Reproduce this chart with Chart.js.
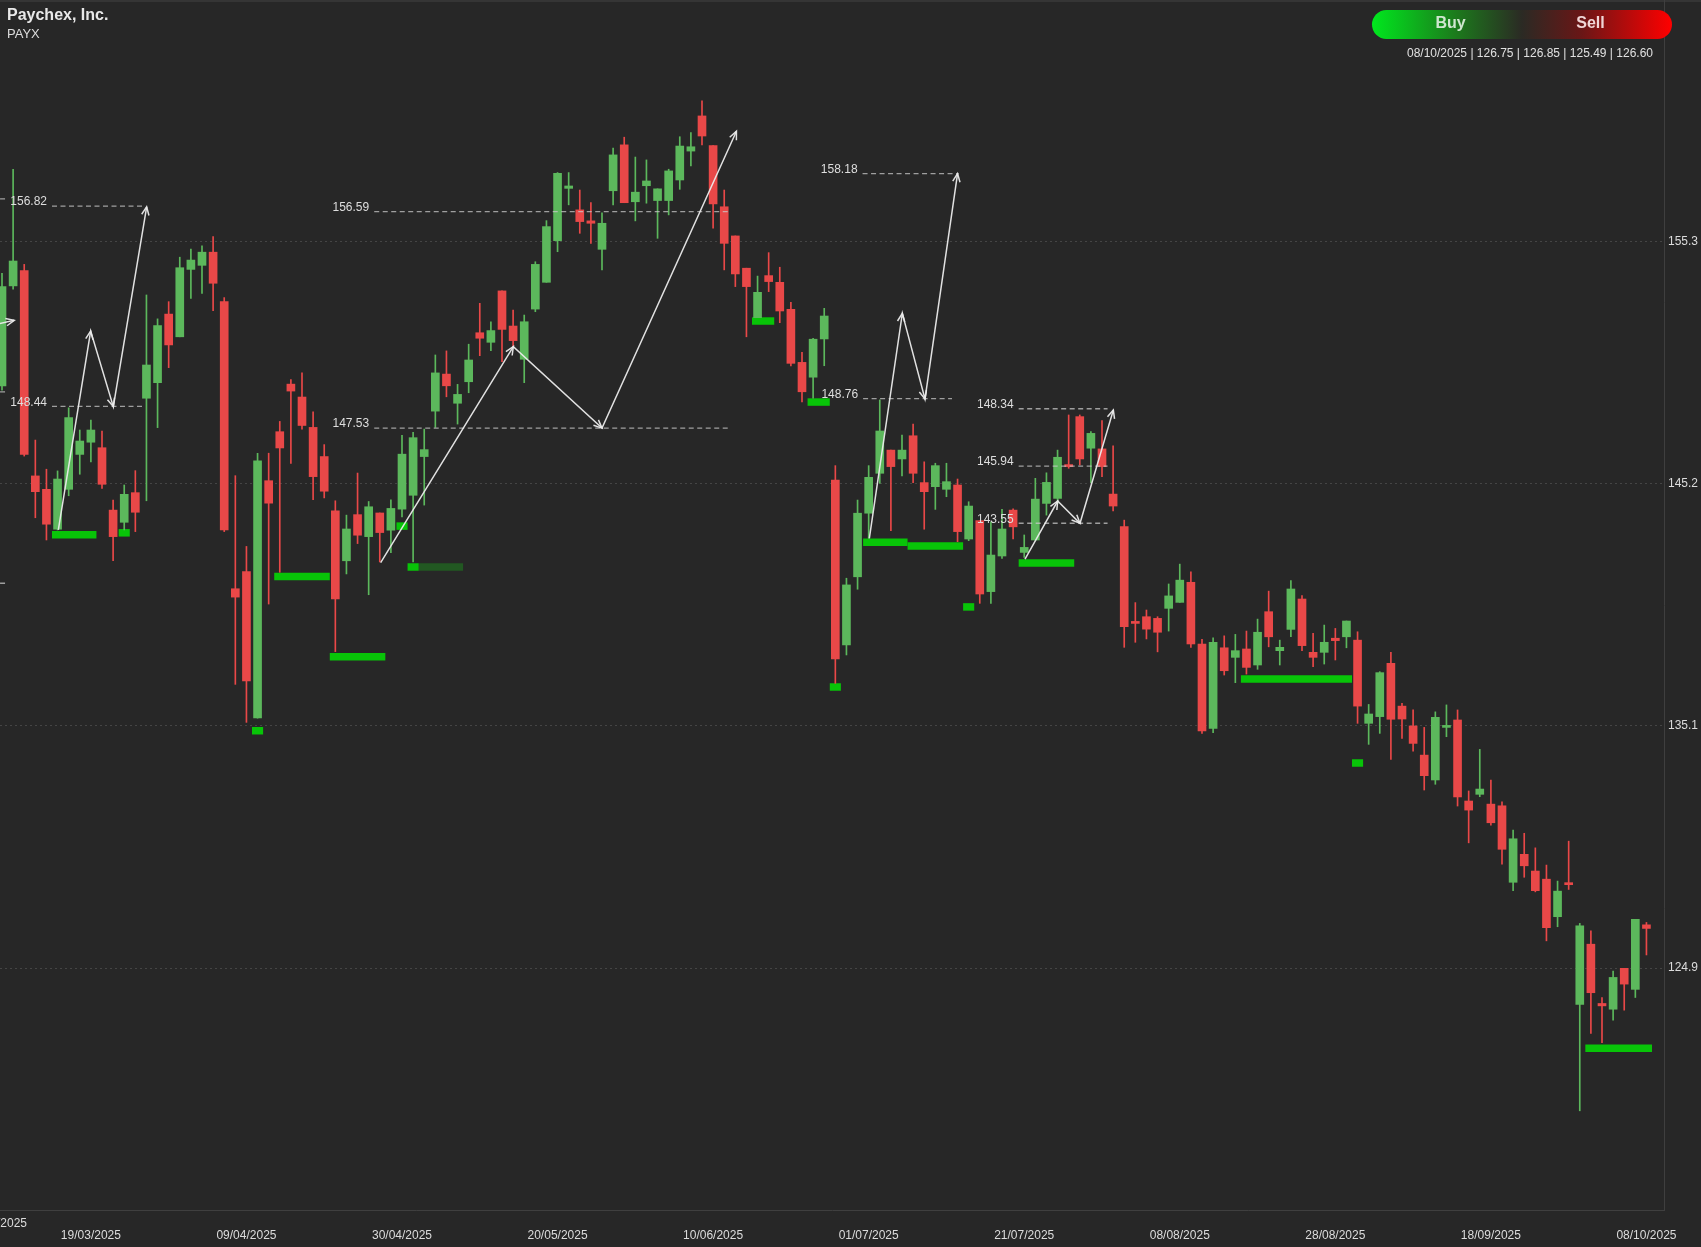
<!DOCTYPE html>
<html>
<head>
<meta charset="utf-8">
<title>PAYX</title>
<script src="https://cdn.jsdelivr.net/npm/chart.js@4.4.1/dist/chart.umd.min.js"></script>
<style>
  html, body { margin: 0; padding: 0; background: #272727; }
</style>
</head>
<body>
<canvas id="myChart" width="1701" height="1247"></canvas>
<script>
/* daily candles, one entry per session (index 0 = first visible) */
var opens = [149.29,153.48,154.12,145.53,144.97,143.30,144.97,146.43,146.94,146.71,
  144.10,143.59,144.83,148.78,149.43,152.30,151.35,154.17,154.34,154.89,
  152.82,140.81,141.53,135.41,145.33,147.38,149.37,148.83,147.56,146.34,
  144.07,141.98,143.91,142.99,143.98,143.26,144.14,144.72,146.34,148.24,
  149.79,148.57,149.47,151.52,151.12,153.27,151.80,150.41,152.51,153.63,
  155.37,157.56,156.66,156.20,155.01,157.46,159.38,157.00,157.67,157.05,
  157.05,157.91,159.12,160.59,159.35,156.79,155.57,154.22,152.15,153.91,
  153.63,152.50,150.28,149.66,151.26,145.36,138.46,141.31,143.97,145.64,
  146.61,146.24,147.21,145.25,145.08,144.97,145.15,142.89,143.66,140.69,
  142.18,144.10,142.33,142.85,144.38,144.59,145.99,148.01,146.69,146.66,
  144.77,143.41,139.43,139.64,139.57,139.99,140.24,141.08,138.50,134.97,
  138.34,137.94,138.29,137.62,139.85,138.22,139.11,140.38,138.15,138.15,
  138.74,138.80,138.66,135.18,135.46,137.69,135.90,135.07,133.85,132.81,
  135.01,135.32,131.93,132.21,131.80,131.73,128.53,129.70,129.00,128.66,
  127.09,128.51,123.42,125.94,123.46,123.22,124.93,124.05,126.75];
var highs = [154.01,158.36,154.38,147.03,145.81,145.74,148.38,147.45,147.87,147.41,
  144.52,145.15,145.75,153.10,152.10,152.82,154.68,155.02,155.16,155.54,
  152.99,145.54,142.58,146.48,146.48,147.81,149.56,149.84,148.21,146.84,
  144.49,143.89,145.65,144.46,143.98,144.53,147.23,147.35,147.49,150.59,
  150.76,149.36,151.04,152.75,151.98,153.27,152.47,152.26,154.49,156.21,
  158.22,158.22,157.49,156.96,156.54,159.24,159.70,158.87,158.75,157.54,
  158.36,159.72,159.89,161.22,159.35,157.49,155.57,154.22,153.89,154.87,
  154.26,152.79,150.70,151.29,152.54,145.96,141.25,144.52,145.96,148.71,
  146.61,147.24,147.70,146.12,146.06,146.06,145.40,144.45,143.66,143.61,
  144.13,144.15,143.06,145.43,145.66,146.61,148.08,148.08,147.38,147.84,
  146.79,143.68,140.23,139.92,139.64,141.01,141.84,141.52,138.69,138.76,
  138.84,138.90,139.04,139.54,140.71,138.66,141.15,140.52,138.95,139.29,
  139.15,139.46,139.01,135.97,137.34,138.15,136.02,135.74,135.01,135.66,
  135.95,135.74,132.35,134.09,132.81,131.90,130.71,130.58,129.97,129.25,
  128.58,130.25,126.81,126.50,123.71,124.81,124.93,126.98,126.85];
var lows = [149.12,153.34,146.36,143.78,142.85,143.27,144.70,145.60,146.12,145.01,
  141.98,143.27,143.20,144.49,147.55,150.06,151.35,152.96,153.17,152.44,
  143.20,136.81,135.22,135.40,140.17,141.50,146.05,147.49,144.54,144.61,
  138.18,141.43,142.70,140.56,141.93,142.32,143.81,141.93,144.31,147.56,
  148.84,147.70,149.01,150.56,150.77,150.31,150.94,149.43,152.40,153.63,
  154.91,156.87,155.68,155.26,154.15,156.87,156.96,156.20,156.94,155.47,
  156.45,157.52,158.50,159.38,155.89,154.15,153.45,151.35,152.15,153.24,
  151.94,150.13,148.63,148.78,150.14,136.85,138.04,140.79,142.92,145.22,
  143.24,145.53,145.25,143.30,144.13,144.66,142.78,142.82,140.20,140.20,
  142.08,142.89,142.12,142.85,143.89,144.38,145.85,145.99,145.25,145.50,
  144.07,138.36,138.57,138.71,138.17,139.04,140.24,138.36,134.76,134.79,
  137.20,136.88,137.24,137.44,138.38,137.62,138.80,138.22,137.55,137.66,
  137.83,138.34,135.18,134.30,134.76,133.67,134.55,134.02,132.39,132.63,
  134.62,131.72,130.18,132.11,130.92,129.29,128.18,128.74,128.13,126.08,
  126.67,128.23,118.97,122.21,121.82,122.76,123.18,123.71,125.49];
var closes = [153.45,154.52,146.43,144.87,143.51,145.40,147.97,146.99,147.45,145.18,
  142.99,144.76,144.01,150.17,151.82,151.01,154.24,154.56,154.89,153.59,
  143.27,140.46,136.95,146.16,144.39,146.70,149.08,147.64,145.50,144.89,
  140.38,143.31,143.05,144.24,143.16,144.17,146.44,147.13,146.63,149.84,
  149.30,148.94,150.38,151.29,151.61,151.66,151.19,151.98,154.38,155.96,
  158.19,157.66,156.17,156.10,156.10,158.96,156.96,157.40,157.87,157.54,
  158.29,159.33,159.30,159.75,156.91,155.26,153.98,153.45,153.21,153.66,
  152.43,150.24,149.05,151.25,152.22,137.87,140.97,143.97,145.47,147.41,
  145.92,146.61,145.64,144.87,145.96,145.29,143.20,144.27,140.59,142.22,
  143.31,143.40,142.54,144.56,145.26,146.31,145.92,146.24,147.31,145.92,
  144.27,139.22,139.36,139.12,138.99,140.51,141.17,138.50,134.86,138.57,
  137.38,138.22,137.52,138.99,138.80,138.36,140.80,138.43,137.94,138.57,
  138.64,139.46,135.90,135.57,137.30,135.35,135.36,134.34,132.99,135.43,
  135.08,132.10,131.55,132.43,131.02,129.91,130.35,129.22,128.18,126.63,
  128.16,128.43,126.71,123.91,123.36,124.55,124.27,126.98,126.60];

/* x axis: dates shown every 14 sessions */
var tickIdx = [8, 22, 36, 50, 64, 78, 92, 106, 120, 134, 148];
var tickLabels = ['19/03/2025', '09/04/2025', '30/04/2025', '20/05/2025', '10/06/2025',
  '01/07/2025', '21/07/2025', '08/08/2025', '28/08/2025', '18/09/2025', '08/10/2025'];
var yTicks = [124.94, 135.07, 145.20, 155.33];

/* dashed target levels */
var levelFrom = [4.5, 4.5, 33.5, 33.5, 77.45, 77.5, 91.5, 91.5, 91.5, -4, -4, -4];
var levelTo = [12.6, 12.6, 65.5, 65.5, 86.1, 85.5, 99.5, 99.5, 99.5, 0.47, 0.47, 0.47];
var levelPrice = [156.82, 148.44, 156.59, 147.53, 158.18, 148.76, 148.34, 145.94, 143.55, 157.12, 149.05, 141.04];
var levelText = ['156.82', '148.44', '156.59', '147.53', '158.18', '148.76', '148.34', '145.94', '143.55', '', '', ''];

/* zigzag projections */
var zigX = [[-3, 1.1], [5.07, 7.98, 10.02, 13.02], [34.08, 46.02, 54.0, 66.1], [78.06, 81.03, 83.07, 86.0], [92.07, 95.01, 97.02, 100.02]];
var zigY = [[151.6, 152.04], [143.27, 151.59, 148.43, 156.79], [141.9, 150.94, 147.53, 159.95], [142.92, 152.33, 148.75, 158.18], [142.05, 144.48, 143.55, 148.29]];

/* green support marks: first session, number of sessions, price */
var markFrom = [5, 11, 25, 23, 30, 36, 37, 68, 73, 75, 78, 82, 87, 92, 112, 122, 143];
var markSlots = [4, 1, 5, 1, 5, 1, 1, 2, 2, 1, 4, 5, 1, 5, 10, 1, 6];
var markPrice = [143.07, 143.15, 141.32, 134.87, 137.96, 143.43, 141.72, 152.01, 148.62, 136.70, 142.76, 142.60, 140.05, 141.89, 137.03, 133.52, 121.59];
var fadeFrom = [38];
var fadeSlots = [4];
var fadePrice = [141.72];

var lastBar = ['08/10/2025', 126.75, 126.85, 125.49, 126.60];

var GREEN = 'rgb(92,184,92)';
var RED = 'rgb(233,72,72)';
var FONT = "'Liberation Sans', Arial, Helvetica, sans-serif";

var candleColor = opens.map(function(o, i) { return closes[i] >= o ? GREEN : RED; });
var bodies = opens.map(function(o, i) { return {x: i, y: [o, closes[i]]}; });
var wicks = lows.map(function(l, i) { return {x: i, y: [l, highs[i]]}; });

var datasets = [
  { type: 'bar', data: wicks, backgroundColor: candleColor, barThickness: 1, grouped: false, order: 3 },
  { type: 'bar', data: bodies, backgroundColor: candleColor, barThickness: 8, grouped: false, minBarLength: 2, order: 2 }
];
markFrom.forEach(function(f, i) {
  datasets.push({ type: 'line', data: [{x: f - 0.5, y: markPrice[i]}, {x: f - 0.5 + markSlots[i], y: markPrice[i]}],
    borderColor: 'rgb(8,196,8)', borderWidth: 7.5, borderCapStyle: 'butt', pointRadius: 0, order: 4 });
});
fadeFrom.forEach(function(f, i) {
  datasets.push({ type: 'line', data: [{x: f - 0.5, y: fadePrice[i]}, {x: f - 0.5 + fadeSlots[i], y: fadePrice[i]}],
    borderColor: 'rgb(34,88,34)', borderWidth: 7.5, borderCapStyle: 'butt', pointRadius: 0, order: 4 });
});
levelPrice.forEach(function(p, i) {
  datasets.push({ type: 'line', data: [{x: levelFrom[i], y: p}, {x: levelTo[i], y: p}],
    borderColor: 'rgba(200,200,200,0.75)', borderWidth: 1.3, borderDash: [5, 3.5], pointRadius: 0, order: 1 });
});
zigX.forEach(function(xs, k) {
  datasets.push({ type: 'line', data: xs.map(function(x, i) { return {x: x, y: zigY[k][i]}; }),
    borderColor: 'rgba(235,235,235,0.95)', borderWidth: 1.5, pointRadius: 0, tension: 0, order: 0 });
});

/* background, arrow heads, level labels, header */
var overlay = {
  id: 'overlay',
  beforeDraw: function(chart) {
    var ctx = chart.ctx;
    ctx.save();
    ctx.fillStyle = '#272727';
    ctx.fillRect(0, 0, chart.width, chart.height);
    ctx.fillStyle = '#353535';
    ctx.fillRect(0, 0, chart.width, 2);
    ctx.restore();
  },
  afterDatasetsDraw: function(chart) {
    var ctx = chart.ctx, xs = chart.scales.x, ys = chart.scales.y, a = chart.chartArea;
    ctx.save();
    ctx.beginPath();
    ctx.rect(a.left, a.top, a.right - a.left, a.bottom - a.top);
    ctx.clip();
    ctx.strokeStyle = 'rgba(235,235,235,0.95)';
    ctx.lineWidth = 1.5;
    zigX.forEach(function(px, k) {
      for (var i = 1; i < px.length; i++) {
        var x1 = xs.getPixelForValue(px[i - 1]), y1 = ys.getPixelForValue(zigY[k][i - 1]);
        var x2 = xs.getPixelForValue(px[i]), y2 = ys.getPixelForValue(zigY[k][i]);
        var ang = Math.atan2(y2 - y1, x2 - x1), len = 9, sp = 0.42;
        ctx.beginPath();
        ctx.moveTo(x2 - len * Math.cos(ang - sp), y2 - len * Math.sin(ang - sp));
        ctx.lineTo(x2, y2);
        ctx.lineTo(x2 - len * Math.cos(ang + sp), y2 - len * Math.sin(ang + sp));
        ctx.stroke();
      }
    });
    ctx.font = '12px ' + FONT;
    ctx.fillStyle = '#dedede';
    ctx.textAlign = 'right';
    ctx.textBaseline = 'middle';
    levelText.forEach(function(t, i) {
      if (!t) return;
      ctx.fillText(t, xs.getPixelForValue(levelFrom[i]) - 5, ys.getPixelForValue(levelPrice[i]) - 4);
    });
    ctx.restore();
  },
  afterDraw: function(chart) {
    var ctx = chart.ctx;
    ctx.save();
    // name + ticker
    ctx.textAlign = 'left';
    ctx.textBaseline = 'alphabetic';
    ctx.fillStyle = '#e8e8e8';
    ctx.font = 'bold 16px ' + FONT;
    ctx.fillText('Paychex, Inc.', 7, 20);
    ctx.fillStyle = '#dcdcdc';
    ctx.font = '13px ' + FONT;
    ctx.fillText('PAYX', 7, 38);
    // buy / sell pill
    var x = 1372, y = 10, w = 300, h = 29, r = 14.5;
    var g = ctx.createLinearGradient(x, 0, x + w, 0);
    g.addColorStop(0, '#00e81e');
    g.addColorStop(0.28, '#1c7a1c');
    g.addColorStop(0.5, '#2b2a24');
    g.addColorStop(0.7, '#6a1616');
    g.addColorStop(1, '#ff0000');
    ctx.beginPath();
    ctx.moveTo(x + r, y);
    ctx.lineTo(x + w - r, y);
    ctx.arc(x + w - r, y + r, r, -Math.PI / 2, Math.PI / 2);
    ctx.lineTo(x + r, y + h);
    ctx.arc(x + r, y + r, r, Math.PI / 2, Math.PI * 1.5);
    ctx.closePath();
    ctx.fillStyle = g;
    ctx.fill();
    ctx.font = 'bold 16px ' + FONT;
    ctx.textAlign = 'center';
    ctx.textBaseline = 'middle';
    ctx.fillStyle = '#cfe6cf';
    ctx.fillText('Buy', 1450.5, 24);
    ctx.fillStyle = '#f0d6d6';
    ctx.fillText('Sell', 1590.5, 24);
    // last bar values
    ctx.font = '12px ' + FONT;
    ctx.textAlign = 'right';
    ctx.fillStyle = '#e0e0e0';
    ctx.fillText(lastBar[0] + ' | ' + lastBar.slice(1).map(function(v) { return v.toFixed(2); }).join(' | '), 1653, 54);
    // first date, cut by the left edge
    ctx.fillStyle = '#dcdcdc';
    ctx.fillText('07/03/2025', 27, 1224);
    ctx.restore();
  }
};

var ctx = document.getElementById('myChart').getContext('2d');
var myChart = new Chart(ctx, {
  type: 'bar',
  data: { datasets: datasets },
  options: {
    responsive: false,
    animation: false,
    events: [],
    layout: { padding: 0, autoPadding: false },
    plugins: { legend: { display: false }, tooltip: { enabled: false } },
    scales: {
      x: {
        type: 'linear',
        min: -0.18,
        max: 149.58,
        offset: false,
        grid: { display: false, offset: false },
        border: { display: true, color: '#3f3f3f', width: 1 },
        afterBuildTicks: function(s) { s.ticks = tickIdx.map(function(v) { return {value: v}; }); },
        afterFit: function(s) { s.height = 37; s.paddingLeft = 0; s.paddingRight = 0; },
        ticks: {
          autoSkip: false,
          maxRotation: 0,
          padding: 10,
          color: '#dcdcdc',
          font: { family: FONT, size: 12 },
          callback: function(v, i) { return tickLabels[i]; }
        }
      },
      y: {
        position: 'right',
        min: 114.82,
        max: 165.44,
        grid: { color: 'rgba(255,255,255,0.14)', drawTicks: false },
        border: { display: true, color: '#3f3f3f', width: 1, dash: [2, 3] },
        afterBuildTicks: function(s) { s.ticks = yTicks.map(function(v) { return {value: v}; }); },
        afterFit: function(s) { s.width = 37; s.paddingTop = 0; s.paddingBottom = 0; },
        ticks: {
          padding: 4,
          color: '#dcdcdc',
          font: { family: FONT, size: 12 },
          callback: function(v) { return v.toFixed(1); }
        }
      }
    }
  },
  plugins: [overlay]
});
</script>
</body>
</html>
